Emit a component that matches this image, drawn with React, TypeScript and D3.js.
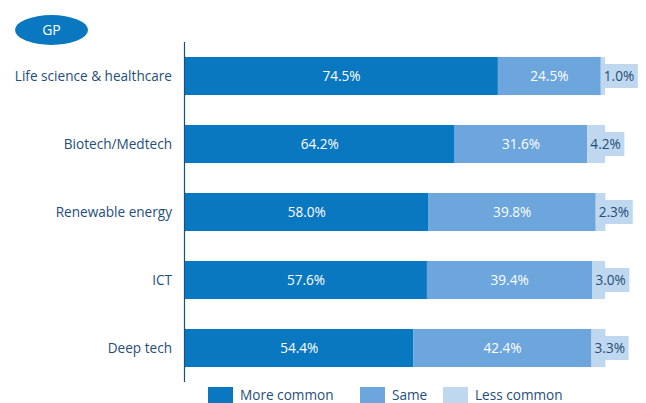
import React from "react";
import * as d3 from "d3";

const categories = ["Life science & healthcare", "Biotech/Medtech", "Renewable energy", "ICT", "Deep tech"];
const moreCommon = [74.5, 64.2, 58.0, 57.6, 54.4];
const same = [24.5, 31.6, 39.8, 39.4, 42.4];
const lessCommon = [1.0, 4.2, 2.3, 3.0, 3.3];
const seriesNames = ["More common", "Same", "Less common"];
const colors = ["#0a78c0", "#6ca6dc", "#bfd8ef"];
const badge = "GP";

const W = 646, H = 403;
const left = 185;
const FONT = "'Open Sans', sans-serif";
const FS = 13.6;

export default function App() {
  const x = d3.scaleLinear().domain([0, 100]).range([left, left + 420]);
  const y = d3.scaleBand().domain(categories).range([42, 382]).paddingInner(0.44).paddingOuter(0.22);
  const series = [moreCommon, same, lessCommon];
  return (
    <svg width={W} height={H} style={{ position: "absolute", left: 0, top: 0 }} fontFamily={FONT}>
      <ellipse cx={51.5} cy={30} rx={36.5} ry={15} fill="#0a78c0" />
      <text x={51.5} y={30} dy="0.35em" textAnchor="middle" fill="#fff" fontSize={14}>{badge}</text>
      {categories.map((c, i) => {
        let acc = 0;
        const y0 = y(c)!;
        const bh = y.bandwidth();
        return (
          <g key={c}>
            <text x={172} y={y0 + bh / 2} dy="0.35em" textAnchor="end" fill="#1f4e79" fontSize={FS}>{c}</text>
            {series.map((s, j) => {
              const v = s[i];
              const x0 = x(acc);
              acc += v;
              const x1 = x(acc);
              const label = v.toFixed(1) + "%";
              return (
                <g key={j}>
                  <rect x={x0} y={y0} width={x1 - x0} height={bh} fill={colors[j]} />
                  {j < 2 ? (
                    <text x={(x0 + x1) / 2} y={y0 + bh / 2} dy="0.35em" textAnchor="middle" fill="#fff" fontSize={FS}>{label}</text>
                  ) : (
                    <g>
                      <rect x={x0} y={y0 + 7} width={37} height={bh - 14} fill={colors[2]} />
                      <text x={x0 + 3} y={y0 + bh / 2} dy="0.35em" fill="#1f4e79" fontSize={FS}>{label}</text>
                    </g>
                  )}
                </g>
              );
            })}
          </g>
        );
      })}
      <line x1={184.5} x2={184.5} y1={42} y2={382} stroke="#1f4e79" strokeWidth={1.2} />
      {seriesNames.map((n, j) => {
        const lx = [208, 360, 443][j];
        return (
          <g key={n}>
            <rect x={lx} y={387} width={25} height={18} fill={colors[j]} />
            <text x={lx + 32} y={395} dy="0.35em" fill="#1f4e79" fontSize={FS}>{n}</text>
          </g>
        );
      })}
    </svg>
  );
}
